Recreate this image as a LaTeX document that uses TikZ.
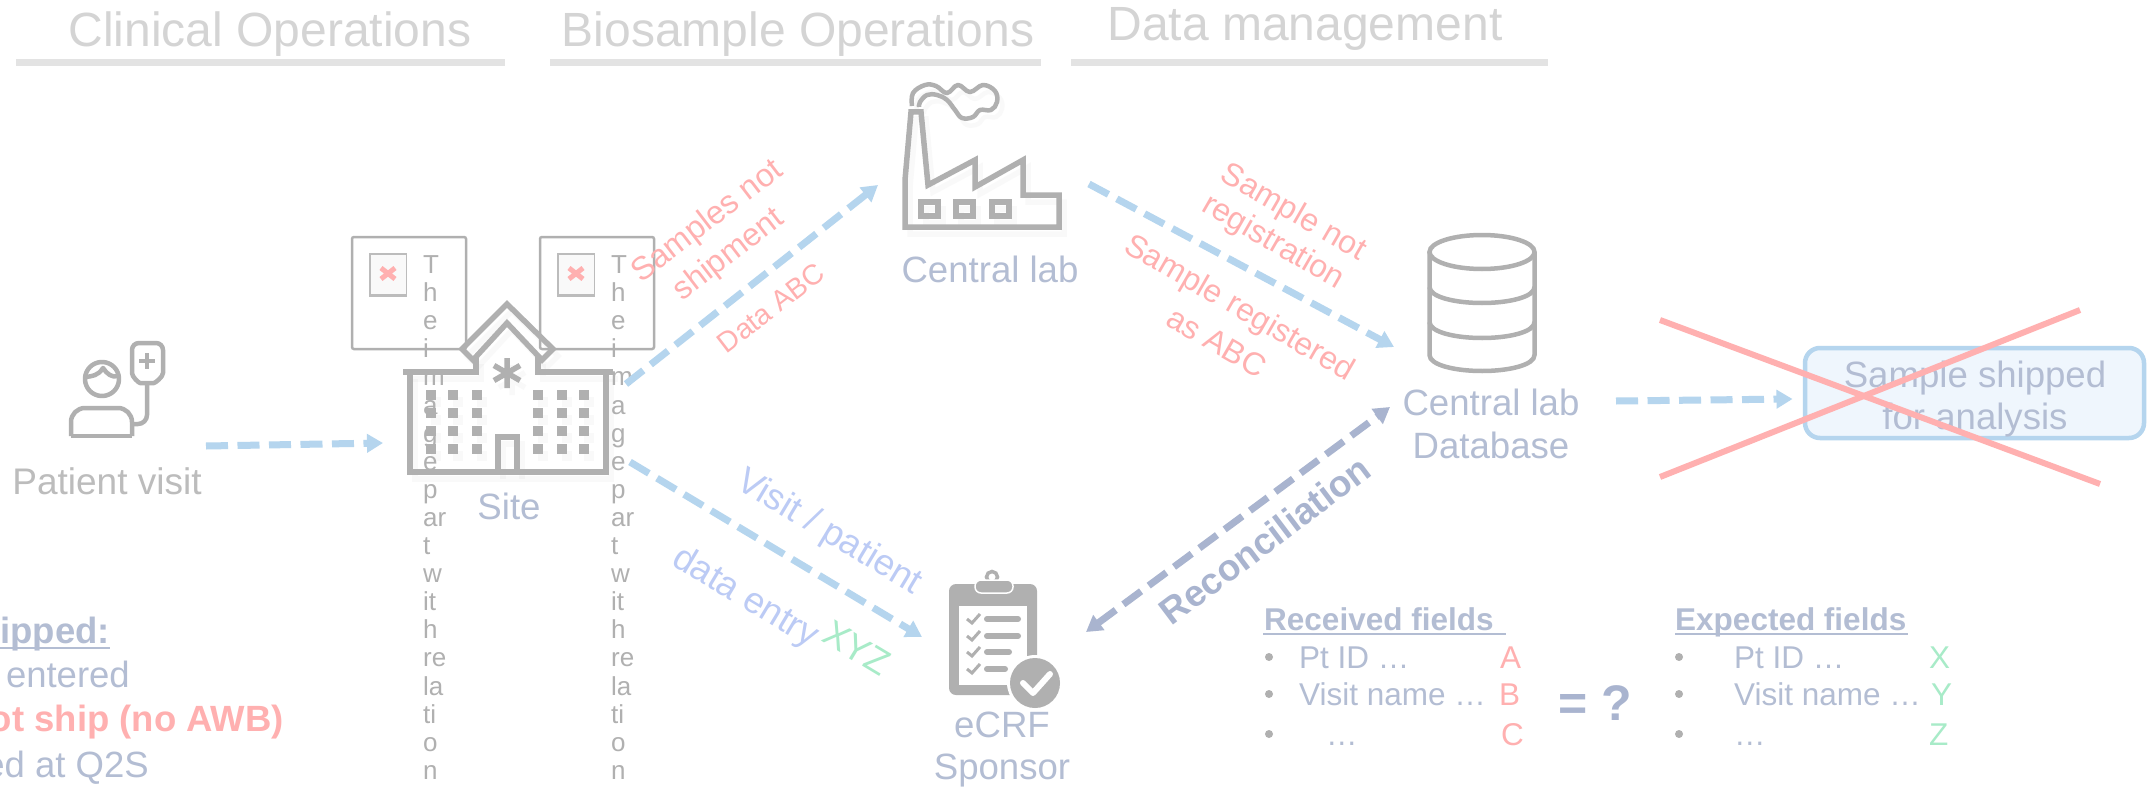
\documentclass[tikz,border=0pt]{standalone}
\usepackage{fontspec}
\setmainfont{Liberation Sans}
\usetikzlibrary{arrows.meta}
\definecolor{igray}{HTML}{B0B0B0}
\definecolor{bgray}{HTML}{B3BDD3}
\definecolor{rgray}{HTML}{A9B4CF}
\definecolor{pinkc}{HTML}{FFB0B0}
\definecolor{peri}{HTML}{BCCBF5}
\definecolor{greenc}{HTML}{A8EBC8}
\definecolor{flowc}{HTML}{B5D5EE}
\definecolor{headt}{HTML}{D4D4D4}
\definecolor{headl}{HTML}{E3E3E3}
\definecolor{boxf}{HTML}{EFF6FD}
\newcommand{\fs}[1]{\fontsize{#1}{#1}\selectfont}
\newcommand{\sitepaths}{%
  \draw[iconline] (403,372) -- (476,372) -- (476,357);
  \draw[iconline] (538,357) -- (538,372) -- (613,372);
  \draw[iconline] (410,372) -- (410,472) -- (606,472) -- (606,372);
  \draw[iconline] (507,304) -- (553,349) -- (542,360) -- (507,323) -- (473,360) -- (462,349) -- cycle;
  \draw[iconline] (498,472) -- (498,437) -- (517,437) -- (517,472);
  \draw[iconline] (507,358) -- (507,388) (494,365.5) -- (520,380.5) (494,380.5) -- (520,365.5);
  \foreach \wx in {426,448,472,533,557,579}
    \foreach \wy in {390,408,426,444}
      \fill[igray] (\wx,\wy) rectangle ++(10,10);
}
\newcommand{\factorypaths}{%
  \draw[iconline] (905,227) -- (1059,227) -- (1059,195) -- (1023,195) -- (1023,160) -- (975,187) -- (975,160) -- (928,185) -- (921,112) -- (911,112) -- (905,180) -- cycle;
  \draw[iconline] (921,202) rectangle (938,216) (956,202) rectangle (973,216) (992,202) rectangle (1009,216);
  \draw[iconline,line width=4.5pt,line join=round] plot[smooth,tension=.65] coordinates {(912,106) (913,93) (925,85) (936,86) (947,93) (958,85) (970,92) (983,85) (995,91) (997,102) (991,110) (980,110) (973,117) (962,118) (955,110) (947,100) (937,95) (927,95) (920,102) (919,107)};
}
\tikzset{
  iconline/.style={draw=igray,line width=5.5pt,line join=miter},
  flow/.style={draw=flowc,line width=7pt,dash pattern=on 22pt off 9.5pt,-{Triangle[length=16pt,width=18pt]}},
  recon/.style={draw=rgray,line width=7pt,dash pattern=on 22pt off 9.5pt,{Triangle[length=16pt,width=18pt]}-{Triangle[length=16pt,width=18pt]}},
  lbl/.style={inner sep=0pt,anchor=base,text=bgray},
  rot/.style={inner sep=0pt,anchor=center,text=pinkc},
  iconnode/.style={inner sep=0pt,draw=none,fill=none},
  headbar/.style={draw=headl,line width=7pt},
  headtxt/.style={inner sep=0pt,anchor=base,text=headt,font=\fs{48}},
  bullet/.style={circle,fill=igray,draw=none,inner sep=0pt,minimum size=8pt},
  listt/.style={inner sep=0pt,anchor=base west,text=bgray,font=\fs{31.5}},
  pholder/.style={draw=igray,line width=2.5pt,rounded corners=2pt,minimum width=114pt,minimum height=112pt,inner sep=0pt},
  vtext/.style={inner sep=0pt,anchor=north west,align=left,text=igray,font=\fontsize{26}{28.1}\selectfont},
}
\begin{document}
\begin{tikzpicture}[x=1pt,y=-1pt]
\useasboundingbox (0,0) rectangle (2151,789);
\fill[white] (0,0) rectangle (2151,789);

% headers
\node[headtxt] (h1) at (270,47) {Clinical Operations};
\node[headtxt] (h2) at (798,47) {Biosample Operations};
\node[headtxt] (h3) at (1305,41) {Data management};
\draw[headbar] (16,63) -- (505,63);
\draw[headbar] (550,63) -- (1041,63);
\draw[headbar] (1071,63) -- (1548,63);

% picture placeholders
\node[pholder] (ph1) at (409,293) {};
\node[pholder] (ph2) at (597,293) {};
\foreach \px/\pn in {352/a,540/b}{
  \fill[igray!85] (\px+17,253) rectangle (\px+55,297);
  \fill[white!93!igray] (\px+18.5,254.5) rectangle (\px+53.5,293.5);
  \draw[pinkc,line width=5pt] (\px+29,268) -- (\px+43,279) (\px+43,268) -- (\px+29,279);
}
\node[vtext] (ph1t) at (423,255.5) {T\\h\\e\\i\\m\\a\\g\\e\\p\\ar\\t\\w\\it\\h\\re\\la\\ti\\o\\n};
\node[vtext] (ph2t) at (611,255.5) {T\\h\\e\\i\\m\\a\\g\\e\\p\\ar\\t\\w\\it\\h\\re\\la\\ti\\o\\n};

% patient icon
\node[iconnode,minimum width=98pt,minimum height=96pt] (patient) at (117,388) {};
\begin{scope}[line width=4.5pt,line join=round]
  \draw[igray,rounded corners=7pt] (132,343) -- (163,343) -- (163,366) .. controls (163,377) and (155,383) .. (147,383) .. controls (139,383) and (132,377) .. (132,366) -- cycle;
  \draw[igray] (147,353) -- (147,369) (139,361) -- (155,361);
  \draw[igray,rounded corners=9pt] (147,383) -- (147,424) -- (132,424);
  \draw[igray] (102,379) circle (17);
  \draw[igray] (86,377) .. controls (92,376) and (98,376) .. (103,368) .. controls (107,374) and (112,378) .. (118,376);
  \draw[igray,rounded corners=14pt] (71,436) -- (71,408) -- (132,408) -- (132,436);
  \draw[igray] (71,436) -- (132,436);
\end{scope}
\node[lbl,text=igray!85,font=\fs{37}] (patientl) at (107,494) {Patient visit};

% site
\node[iconnode,minimum width=210pt,minimum height=168pt] (site) at (508,388) {};
\begin{scope}[shift={(5,7)},opacity=.07]\sitepaths\end{scope}
\sitepaths
\node[lbl,font=\fs{36.6}] (sitel) at (509,519) {Site};

% factory
\node[iconnode,minimum width=154pt,minimum height=145pt] (lab) at (982,155) {};
\begin{scope}[shift={(5,7)},opacity=.07]\factorypaths\end{scope}
\factorypaths
\node[lbl,font=\fs{36.6}] (labl) at (990,282) {Central lab};

% database
\node[iconnode,minimum width=105pt,minimum height=124pt] (db) at (1482,312) {};
\begin{scope}[igray,line width=4.5pt]
  \draw (1482,252) ellipse [x radius=52.5,y radius=17];
  \draw (1429.5,252) -- (1429.5,355) .. controls (1429.5,365) and (1455,371) .. (1482,371) .. controls (1509,371) and (1534.5,365) .. (1534.5,355) -- (1534.5,252);
  \draw (1429.5,287) .. controls (1429.5,297) and (1455,303) .. (1482,303) .. controls (1509,303) and (1534.5,297) .. (1534.5,287);
  \draw (1429.5,322) .. controls (1429.5,332) and (1455,338) .. (1482,338) .. controls (1509,338) and (1534.5,332) .. (1534.5,322);
\end{scope}
\node[lbl,font=\fs{36.6}] (dbl1) at (1491,415) {Central lab};
\node[lbl,font=\fs{36.6}] (dbl2) at (1491,458) {Database};

% eCRF
\node[iconnode,minimum width=88pt,minimum height=111pt] (ecrf) at (993,640) {};
\fill[igray,rounded corners=7pt] (949,584) rectangle (1037,695);
\fill[white] (959,606) rectangle (1027,685);
\draw[igray,line width=3.5pt] (992,577) circle (5.5);
\draw[white,fill=igray,line width=1.5pt,rounded corners=6pt] (975,580) rectangle (1013,593);
\foreach \ly/\lx in {619/1018,636/1018,652/1009,669/1005}{
  \draw[igray,line width=6pt,line cap=round] (987,\ly) -- (\lx,\ly);
  \draw[igray,line width=3pt] (967,\ly) -- (972,\ly+4) -- (980,\ly-5);
}
\fill[white] (1035,683) circle (28);
\fill[igray] (1035,683) circle (25);
\draw[white,line width=6pt,line cap=round,line join=round] (1023,683) -- (1033,693) -- (1050,674);
\node[lbl,font=\fs{36.6}] (ecrfl1) at (1002,737) {eCRF};
\node[lbl,font=\fs{36.6}] (ecrfl2) at (1002,779) {Sponsor};

% sample box and cross
\node[draw=flowc,fill=boxf,line width=4.5pt,rounded corners=15pt,minimum width=339pt,minimum height=90pt,inner sep=0pt] (sample) at (1974.5,393) {};
\node[lbl,font=\fs{36.6}] (s1) at (1975,387) {Sample shipped};
\node[lbl,font=\fs{36.6}] (s2) at (1975,429) {for analysis};
\coordinate (x1a) at (1660,320); \coordinate (x1b) at (2100,484);
\coordinate (x2a) at (1660,477); \coordinate (x2b) at (2080,310);
\draw[pinkc,line width=6pt] (x1a) -- (x1b);
\draw[pinkc,line width=6pt] (x2a) -- (x2b);

% connectors
\draw[flow] ([shift={(89,58)}]patient.center) -- ([shift={(-125,55)}]site.center);
\draw[flow] ([shift={(118,-4)}]site.center) -- ([shift={(-104,30)}]lab.center);
\draw[flow] ([shift={(107,29)}]lab.center) -- ([shift={(-88,35)}]db.center);
\draw[flow] ([shift={(122,74)}]site.center) -- ([shift={(-71,-3)}]ecrf.center);
\draw[flow] ([shift={(134,89)}]db.center) -- ([shift={(-182,6)}]sample.center);
\draw[recon] ([shift={(93,-8)}]ecrf.center) -- ([shift={(-92,95)}]db.center);

% rotated labels
\node[rot,rotate=37.5,font=\fs{32.5}] (n1) at (708,222) {Samples not};
\node[rot,rotate=37.5,font=\fs{32}] (n2) at (729,255) {shipment};
\node[rot,rotate=37.5,font=\fs{28.5}] (n3) at (771,308) {Data ABC};
\node[rot,rotate=-30,font=\fs{32}] (n4) at (1293,213) {Sample not};
\node[rot,rotate=-30,font=\fs{32}] (n5) at (1273,243) {registration};
\node[rot,rotate=-30,font=\fs{32}] (n6) at (1239,309) {Sample registered};
\node[rot,rotate=-30,font=\fs{32}] (n7) at (1217,342) {as ABC};
\node[rot,rotate=-31,text=peri,font=\fs{36.6}] (n8) at (829,533) {Visit / patient};
\node[rot,rotate=-31,text=peri,font=\fs{36.6}] (n9) at (745,598) {data entry};
\node[rot,rotate=-31,text=greenc,font=\fs{36.6}] (n10) at (857,648) {XYZ};
\node[rot,rotate=37,text=rgray,font=\bfseries\fs{37}] (n11) at (1265,540) {Reconciliation};

% lists
\node[listt,font=\bfseries\fs{31.5}] (r0) at (1264,630) {Received fields};
\draw[bgray,line width=2.5pt] (1263,634) -- (1506,634);
\node[bullet] (rb1) at (1269,657) {};
\node[bullet] (rb2) at (1269,694) {};
\node[bullet] (rb3) at (1269,734) {};
\node[listt] (r1) at (1299,668) {Pt ID …};
\node[listt] (r2) at (1299,705) {Visit name …};
\node[listt] (r3) at (1326,745) {…};
\node[listt,text=pinkc] (ra) at (1500,668) {A};
\node[listt,text=pinkc] (rb) at (1499,705) {B};
\node[listt,text=pinkc] (rc) at (1501,745) {C};
\node[lbl,text=rgray,font=\bfseries\fs{50}] (eq) at (1595,720) {= ?};
\node[listt,font=\bfseries\fs{31.5}] (e0) at (1675,630) {Expected fields};
\draw[bgray,line width=2.5pt] (1675,634) -- (1908,634);
\node[bullet] (eb1) at (1679,657) {};
\node[bullet] (eb2) at (1679,694) {};
\node[bullet] (eb3) at (1679,734) {};
\node[listt] (e1) at (1734,668) {Pt ID …};
\node[listt] (e2) at (1734,705) {Visit name …};
\node[listt] (e3) at (1734,745) {…};
\node[listt,text=greenc] (ex) at (1929,668) {X};
\node[listt,text=greenc] (ey) at (1931,705) {Y};
\node[listt,text=greenc] (ez) at (1929,745) {Z};

% clipped legend
\node[inner sep=0pt,anchor=base east,text=bgray,font=\bfseries\fs{36.5}] (c1) at (110,643) {ipped:};
\draw[bgray,line width=2.5pt] (0,648) -- (110,648);
\node[inner sep=0pt,anchor=base east,text=bgray,font=\fs{36.5}] (c2) at (130,687) {entered};
\node[inner sep=0pt,anchor=base east,text=pinkc,font=\bfseries\fs{36.5}] (c3) at (284,731) {ot ship (no AWB)};
\node[inner sep=0pt,anchor=base east,text=bgray,font=\fs{36.5}] (c4) at (149,777) {ed at Q2S};
\end{tikzpicture}
\end{document}
